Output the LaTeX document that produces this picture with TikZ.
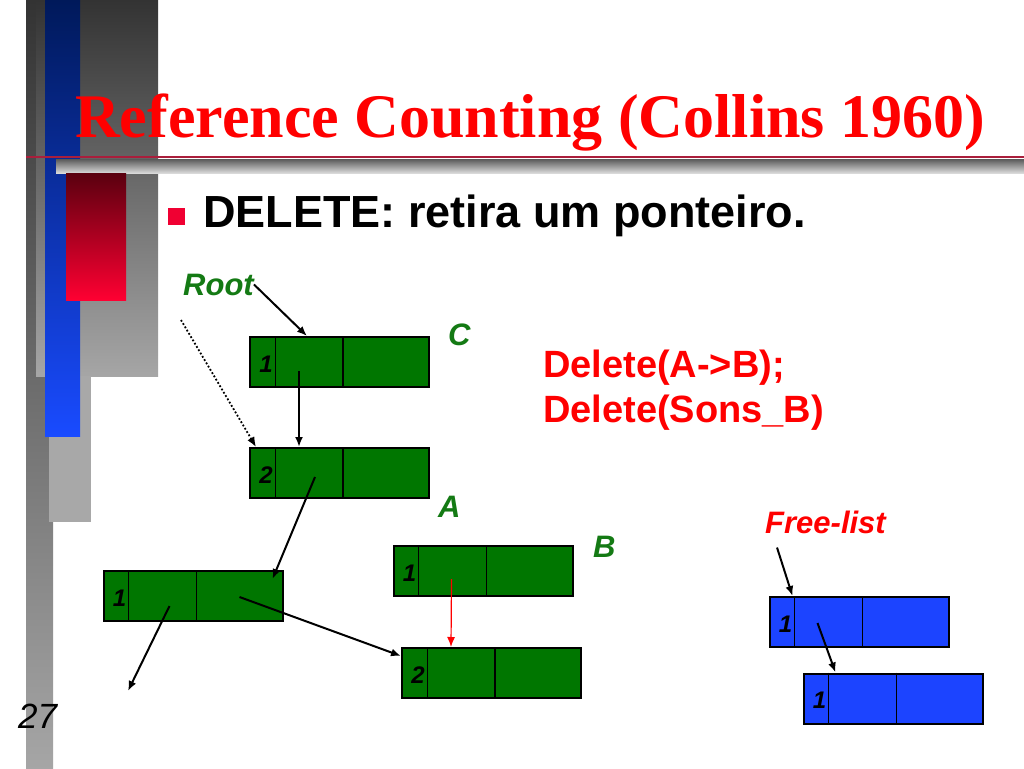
\documentclass[tikz,border=0pt]{standalone}
\usepackage{fontspec}
\setmainfont{Liberation Sans}
\newfontfamily\titlefont{Liberation Serif}
\usetikzlibrary{arrows.meta}
\usetikzlibrary{calc}
\definecolor{boxgreen}{RGB}{0,118,0}
\definecolor{boxblue}{RGB}{28,68,255}
\definecolor{slidered}{RGB}{255,0,0}
\definecolor{tagdark}{RGB}{20,122,20}
\definecolor{bulletred}{RGB}{240,0,50}
\definecolor{lineRed}{RGB}{170,30,60}
\definecolor{barTop}{RGB}{0,25,90}
\definecolor{barBottom}{RGB}{25,75,255}
\definecolor{redTop}{RGB}{90,0,15}
\definecolor{redBottom}{RGB}{255,0,50}
\tikzstyle{record}=[draw, line width=2pt, minimum width=179pt, minimum height=50pt, inner sep=0pt]
\tikzstyle{refcount}=[inner sep=0pt, font=\bfseries\itshape\fontsize{24}{24}\selectfont]
\tikzstyle{tag}=[anchor=base west, inner sep=0pt, font=\bfseries\itshape\fontsize{31}{31}\selectfont]
\tikzstyle{pointer}=[line width=2pt, -{Latex[length=10pt,width=8pt]}]
\newcommand{\recbox}[4]{%
  \node[record, fill=#4] (#1) at (#2) {};
  \draw[line width=1pt] ($(#1.north west)+(26,0)$) -- ($(#1.south west)+(26,0)$);
  \draw[line width=1.5pt] ($(#1.north west)+(94,0)$) -- ($(#1.south west)+(94,0)$);
  \node[refcount] (#1n) at ($(#1.west)+(17,2)$) {#3};
}

\begin{document}
\begin{tikzpicture}[x=1pt, y=-1pt]
  \useasboundingbox (0,0) rectangle (1024,768);
  \fill[white] (0,0) rectangle (1024,768);
  % slide background
  \shade[top color=black!80, bottom color=black!35] (26,0) rectangle (53,768);
  \shade[top color=black!80, bottom color=black!35] (36,0) rectangle (158,376);
  \fill[black!34] (49,376) rectangle (91,522);
  \shade[top color=barTop, bottom color=barBottom] (45,0) rectangle (80,436);
  \shade[top color=black!65, bottom color=black!15] (56,159) rectangle (1024,173);
  \shade[top color=redTop, bottom color=redBottom] (66,173) rectangle (126,300);
  \draw[lineRed, line width=1.5pt] (26,157) -- (1024,157);
  % texts
  \node[anchor=base west, inner sep=0pt, text=slidered, font=\titlefont\bfseries\fontsize{62}{62}\selectfont] (title) at (75,137) {Reference Counting (Collins 1960)};
  \node[fill=bulletred, minimum size=17pt, inner sep=0pt] (bullet) at (176.5,216) {};
  \node[anchor=base west, inner sep=0pt, font=\bfseries\fontsize{45}{45}\selectfont] (point) at (203,227) {DELETE: retira um ponteiro.};
  \node[anchor=base west, inner sep=0pt, text=slidered, font=\bfseries\fontsize{38}{38}\selectfont] (del1) at (543,377) {Delete(A->B);};
  \node[anchor=base west, inner sep=0pt, text=slidered, font=\bfseries\fontsize{38}{38}\selectfont] (del2) at (543,422) {Delete(Sons\_B)};
  \node[anchor=base west, inner sep=0pt, font=\itshape\fontsize{35}{35}\selectfont] (page) at (18,728) {27};
  \node[tag, text=tagdark] (root) at (183,295) {Root};
  \node[tag, text=tagdark] (labC) at (448,345) {C};
  \node[tag, text=tagdark] (labA) at (438,517) {A};
  \node[tag, text=tagdark] (labB) at (593,557) {B};
  \node[tag, text=slidered] (freelbl) at (765,533) {Free-list};
  % records
  \recbox{recC}{339.5,362}{1}{boxgreen}
  \recbox{recD}{339.5,473}{2}{boxgreen}
  \recbox{recE}{193,596}{1}{boxgreen}
  \recbox{recA}{483,571}{1}{boxgreen}
  \recbox{recB}{491.5,673}{2}{boxgreen}
  \recbox{free1}{859,622}{1}{boxblue}
  \recbox{free2}{893,698.5}{1}{boxblue}
  % pointers
  \coordinate (dotfrom) at (181,320);
  \coordinate (nil) at (128,691);
  \draw[pointer] (root.east) -- ($(recC.north west)+(58,0)$);
  \draw[pointer, line width=1.8pt, dotted] (dotfrom) -- ($(recD.north west)+(7,0)$);
  \draw[pointer] ($(recC.north west)+(50,35)$) -- ($(recD.north west)+(50,0)$);
  \draw[pointer] ($(recD.north west)+(66,30)$) -- ($(recE.north west)+(170,9)$);
  \draw[pointer] ($(recE.north west)+(67,36)$) -- (nil);
  \draw[pointer] ($(recE.north west)+(137,27)$) -- ($(recB.north west)+(0,9)$);
  \draw[pointer, line width=1.2pt, color=slidered] ($(recA.north west)+(59,34)$) -- ($(recB.north west)+(50,0)$);
  \draw[pointer] ($(freelbl.south west)+(12,14)$) -- ($(free1.north west)+(24,0)$);
  \draw[pointer] ($(free1.north west)+(49,27)$) -- ($(free2.north west)+(33,0)$);
\end{tikzpicture}
\end{document}
